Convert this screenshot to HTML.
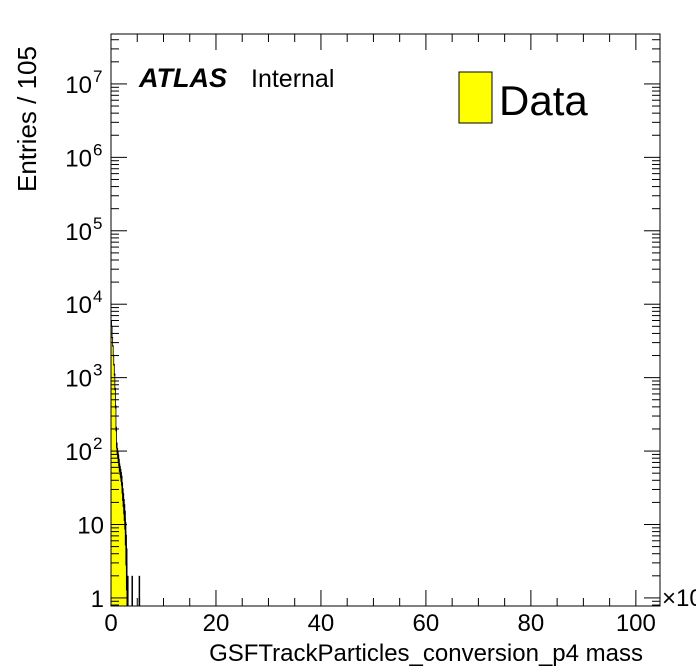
<!DOCTYPE html>
<html><head><meta charset="utf-8"><style>
html,body{margin:0;padding:0;background:#fff;}
svg{display:block;font-family:"Liberation Sans",sans-serif;}
</style></head><body>
<svg id="c" width="696" height="672" viewBox="0 0 696 672">
<g id="plot"></g>
<rect x="111" y="34" width="549" height="572" fill="none" stroke="#000" stroke-width="1"/>
<g id="axes"></g>
<text x="139" y="87" font-size="27" font-weight="bold" font-style="italic">ATLAS</text>
<text x="251" y="87" font-size="25">Internal</text>
<rect x="459" y="72" width="33" height="51" fill="#ffff00" stroke="#000"/>
<text x="499" y="115" font-size="42">Data</text>
<text transform="translate(36,192) rotate(-90)" font-size="26">Entries / 105</text>
<text x="643" y="661" font-size="24" text-anchor="end">GSFTrackParticles_conversion_p4 mass</text>
<text x="662" y="606" font-size="24">×10</text>
</svg>
<script>
const binWidth = 0.105;
const counts = [6000,5000,3500,2700,2000,1500,1100,700,400,200,120,100,90,80,70,60,55,50,45,40,32,26,22,18,15,12,8,5,3,1,1,0,0,0,0,0,0,0,1,0,0,0,0,0,0,0,0,0,0,0,0,1];
const xTicks = [0,20,40,60,80,100];
const yTickExps = [0,1,2,3,4,5,6,7];
const yTickBase = ["1","10","10","10","10","10","10","10"];
const yTickSup = ["","","2","3","4","5","6","7"];

const X0=111, X1=660, Y0=34, Y1=606;
const xMax = 104.6;
const yLogMin = -0.11, yLogMax = 7.68;
const sx = v => X0 + v/xMax*(X1-X0);
const sy = v => Y1 - (Math.log10(v)-yLogMin)/(yLogMax-yLogMin)*(Y1-Y0);
const NS="http://www.w3.org/2000/svg";
const plot=document.getElementById('plot'), axes=document.getElementById('axes');
function mk(tag,attrs,parent){const e=document.createElementNS(NS,tag);for(const k in attrs)e.setAttribute(k,attrs[k]);parent.appendChild(e);return e;}

let d=`M${sx(0)},${Y1}`;
counts.forEach((c,i)=>{const y=c>0?Math.max(sy(c),Y0):Y1;d+=` L${sx(i*binWidth)},${y} L${sx((i+1)*binWidth)},${y}`;});
d+=` L${sx(counts.length*binWidth)},${Y1} Z`;
const h=mk('path',{d:d,fill:'#ffff00',stroke:'#000','stroke-width':0.8},plot);


counts.forEach((c,i)=>{
  if(c<=0)return;
  const xc=sx((i+0.5)*binWidth), e=Math.sqrt(c);
  const lo=c-e>0?sy(c-e):Y1, hi=Math.max(sy(c+e),Y0);
  const l=mk('line',{x1:xc,x2:xc,y1:lo,y2:hi,stroke:'#000','stroke-width':1.5},plot);
  
  
});

for(let v=0;v<=xMax;v+=5){
  const major=v%20===0, x=sx(v), len=major?16:8;
  mk('line',{x1:x,x2:x,y1:Y1,y2:Y1-len,stroke:'#000'},axes);
  mk('line',{x1:x,x2:x,y1:Y0,y2:Y0+len,stroke:'#000'},axes);
}
xTicks.forEach(v=>{
  const t=mk('text',{x:sx(v),y:631,'font-size':24,'text-anchor':'middle'},axes);
  t.textContent=v;
  
  
});
for(let e=-1;e<=7;e++){
  for(let m=1;m<10;m++){
    const v=m*Math.pow(10,e);const lg=Math.log10(v);
    if(lg<yLogMin||lg>yLogMax)continue;
    const y=sy(v),len=m===1?16:8;
    mk('line',{x1:X0,x2:X0+len,y1:y,y2:y,stroke:'#000'},axes);
    mk('line',{x1:X1,x2:X1-len,y1:y,y2:y,stroke:'#000'},axes);
  }
}
yTickExps.forEach((e,i)=>{
  const y=sy(Math.pow(10,e))+9;
  const t=mk('text',{x:yTickSup[i]?92:104,y:y,'font-size':24,'text-anchor':'end'},axes);
  t.textContent=yTickBase[i];
  
  
  if(yTickSup[i]){
    const s=mk('text',{x:93,y:y-11,'font-size':17},axes);
    s.textContent=yTickSup[i];
    
    
  }
});
</script>
</body></html>
